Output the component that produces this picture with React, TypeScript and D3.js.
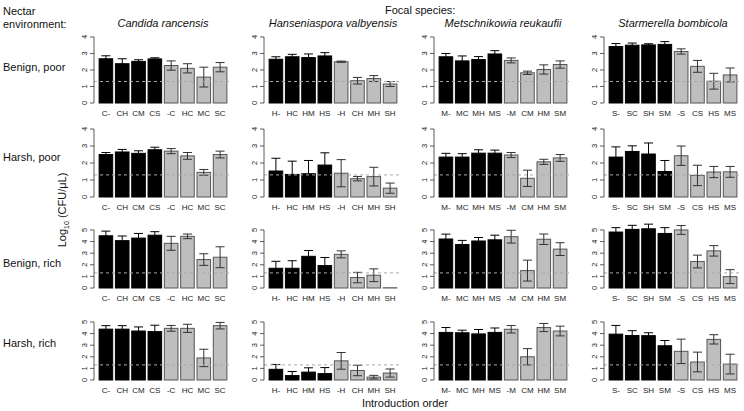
import React from 'react';
import * as d3 from 'd3';

const species = ['Candida rancensis', 'Hanseniaspora valbyensis', 'Metschnikowia reukaufii', 'Starmerella bombicola'];
const environments = ['Benign, poor', 'Harsh, poor', 'Benign, rich', 'Harsh, rich'];
const orderLabels = [
  ['C-', 'CH', 'CM', 'CS', '-C', 'HC', 'MC', 'SC'],
  ['H-', 'HC', 'HM', 'HS', '-H', 'CH', 'MH', 'SH'],
  ['M-', 'MC', 'MH', 'MS', '-M', 'CM', 'HM', 'SM'],
  ['S-', 'SC', 'SH', 'SM', '-S', 'CS', 'HS', 'MS'],
];
const yTickMax = [4, 4, 5, 5];
const yDomainMax = [4.24, 4.12, 6.03, 6.03];
const detectionLimit = 1.3;

// Means: [species][introduction order]
const meanBenignPoor = [
  [2.68, 2.38, 2.52, 2.67, 2.27, 2.1, 1.57, 2.17],
  [2.65, 2.8, 2.75, 2.85, 2.5, 1.35, 1.48, 1.15],
  [2.8, 2.55, 2.63, 2.97, 2.58, 1.83, 2.03, 2.33],
  [3.42, 3.5, 3.52, 3.55, 3.12, 2.22, 1.32, 1.7],
];
const seBenignPoor = [
  [0.18, 0.3, 0.1, 0.07, 0.28, 0.28, 0.6, 0.28],
  [0.15, 0.15, 0.22, 0.2, 0.04, 0.2, 0.18, 0.15],
  [0.2, 0.3, 0.18, 0.2, 0.15, 0.1, 0.28, 0.22],
  [0.18, 0.13, 0.07, 0.17, 0.16, 0.36, 0.48, 0.42],
];
const meanHarshPoor = [
  [2.5, 2.65, 2.57, 2.78, 2.7, 2.42, 1.45, 2.5],
  [1.53, 1.33, 1.37, 1.88, 1.4, 1.08, 1.2, 0.52],
  [2.35, 2.35, 2.58, 2.58, 2.47, 1.1, 2.07, 2.3],
  [2.35, 2.68, 2.53, 1.5, 2.43, 1.27, 1.47, 1.48],
];
const seHarshPoor = [
  [0.12, 0.15, 0.15, 0.15, 0.15, 0.2, 0.17, 0.2],
  [0.75, 0.78, 0.78, 0.72, 0.8, 0.13, 0.55, 0.3],
  [0.22, 0.2, 0.2, 0.18, 0.15, 0.48, 0.15, 0.2],
  [0.6, 0.33, 0.65, 0.65, 0.57, 0.6, 0.33, 0.32],
];
const meanBenignRich = [
  [4.5, 4.08, 4.3, 4.55, 3.85, 4.45, 2.45, 2.65],
  [1.7, 1.7, 2.73, 1.93, 2.9, 0.9, 1.1, 0.02],
  [4.22, 3.75, 4.05, 4.15, 4.42, 1.5, 4.2, 3.35],
  [4.82, 5.05, 5.1, 4.7, 5.0, 2.28, 3.2, 0.98],
];
const seBenignRich = [
  [0.4, 0.4, 0.4, 0.3, 0.6, 0.2, 0.5, 0.9],
  [0.6, 0.65, 0.5, 0.7, 0.3, 0.45, 0.55, 0],
  [0.42, 0.35, 0.3, 0.4, 0.55, 0.9, 0.45, 0.55],
  [0.38, 0.35, 0.4, 0.5, 0.38, 0.55, 0.45, 0.6],
];
const meanHarshRich = [
  [4.38, 4.38, 4.22, 4.17, 4.45, 4.45, 1.9, 4.68],
  [0.92, 0.38, 0.68, 0.55, 1.65, 0.82, 0.25, 0.6],
  [4.1, 4.07, 3.97, 4.1, 4.37, 2.0, 4.52, 4.22],
  [3.95, 3.83, 3.82, 2.95, 2.47, 1.55, 3.5, 1.37],
];
const seHarshRich = [
  [0.3, 0.3, 0.35, 0.55, 0.25, 0.35, 0.75, 0.28],
  [0.42, 0.35, 0.37, 0.52, 0.72, 0.45, 0.15, 0.35],
  [0.42, 0.22, 0.38, 0.38, 0.32, 0.7, 0.35, 0.42],
  [0.75, 0.42, 0.25, 0.45, 1.05, 0.85, 0.4, 0.85],
];

const means = [meanBenignPoor, meanHarshPoor, meanBenignRich, meanHarshRich];
const ses = [seBenignPoor, seHarshPoor, seBenignRich, seHarshRich];

const W = 744;
const H = 411;
const colLeft = [94, 264, 434, 604];
const plotW = 138;
const rowBase = [103, 197, 288, 380];
const rowLabelY = [71, 161, 267, 347];
const plotH = 70;
const font = '"Liberation Sans", Arial, Helvetica, sans-serif';

function Panel({ r, c }: { r: number; c: number }) {
  const x = d3
    .scaleBand<string>()
    .domain(orderLabels[c])
    .range([colLeft[c], colLeft[c] + plotW])
    .paddingInner(1 / 6)
    .paddingOuter(0.313);
  const y = d3.scaleLinear().domain([0, yDomainMax[r]]).range([rowBase[r], rowBase[r] - plotH]);
  const ticks = d3.range(0, yTickMax[r] + 1);
  const axisX = colLeft[c];
  const bw = x.bandwidth();
  return (
    <g>
      {orderLabels[c].map((lab, i) => {
        const m = means[r][c][i];
        const s = ses[r][c][i];
        const first = i < 4;
        const bx = x(lab)!;
        const cx = bx + bw / 2;
        return (
          <g key={lab}>
            <rect
              x={bx}
              y={y(m)}
              width={bw}
              height={Math.max(0, y(0) - y(m))}
              fill={first ? '#000' : '#bebebe'}
              stroke={first ? '#000' : '#555'}
              strokeWidth={1}
            />
            {s > 0 && (
              <g stroke={first ? '#000' : '#333'} strokeWidth={1}>
                <line x1={cx} x2={cx} y1={y(m - s)} y2={y(m + s)} />
                <line x1={cx - 4.5} x2={cx + 4.5} y1={y(m - s)} y2={y(m - s)} />
                <line x1={cx - 4.5} x2={cx + 4.5} y1={y(m + s)} y2={y(m + s)} />
              </g>
            )}
            <text
              x={cx}
              y={rowBase[r] + 13}
              textAnchor="middle"
              fontSize={8}
              fontFamily={font}
              fill="#222"
            >
              {lab}
            </text>
          </g>
        );
      })}
      <line
        x1={colLeft[c]}
        x2={colLeft[c] + plotW}
        y1={y(detectionLimit)}
        y2={y(detectionLimit)}
        stroke="#aaa"
        strokeDasharray="3,3"
        strokeWidth={1}
      />
      <line x1={axisX} x2={axisX} y1={y(0)} y2={y(yTickMax[r])} stroke="#333" strokeWidth={0.8} />
      {ticks.map((t) => (
        <g key={t}>
          <line x1={axisX - 4} x2={axisX} y1={y(t)} y2={y(t)} stroke="#333" strokeWidth={0.8} />
          <text
            transform={`translate(${axisX - 7},${y(t)}) rotate(-90)`}
            textAnchor="middle"
            fontSize={7.5}
            fontFamily={font}
            fill="#222"
          >
            {t}
          </text>
        </g>
      ))}
    </g>
  );
}

export default function App() {
  return (
    <svg width={W} height={H} style={{ position: 'absolute', left: 0, top: 0, background: '#fff' }}>
      <rect width={W} height={H} fill="#fff" />
      <text x={385} y={14} fontSize={11} fontFamily={font} fill="#111">
        Focal species:
      </text>
      <text x={3} y={15} fontSize={11} fontFamily={font} fill="#111">
        Nectar
      </text>
      <text x={3} y={28} fontSize={11} fontFamily={font} fill="#111">
        environment:
      </text>
      {species.map((sp, c) => (
        <text
          key={sp}
          x={colLeft[c] + plotW / 2}
          y={27}
          textAnchor="middle"
          fontSize={11}
          fontStyle="italic"
          fontFamily={font}
          fill="#111"
        >
          {sp}
        </text>
      ))}
      {environments.map((env, r) => (
        <text key={env} x={3} y={rowLabelY[r]} fontSize={11} fontFamily={font} fill="#111">
          {env}
        </text>
      ))}
      <text
        transform="translate(66,210) rotate(-90)"
        textAnchor="middle"
        fontSize={11}
        fontFamily={font}
        fill="#111"
      >
        Log<tspan fontSize={7} dy={3}>10</tspan>
        <tspan dy={-3}> (CFU/μL)</tspan>
      </text>
      <text x={405} y={407} textAnchor="middle" fontSize={11} fontFamily={font} fill="#111">
        Introduction order
      </text>
      {environments.map((_, r) =>
        species.map((__, c) => <Panel key={`${r}-${c}`} r={r} c={c} />)
      )}
    </svg>
  );
}
